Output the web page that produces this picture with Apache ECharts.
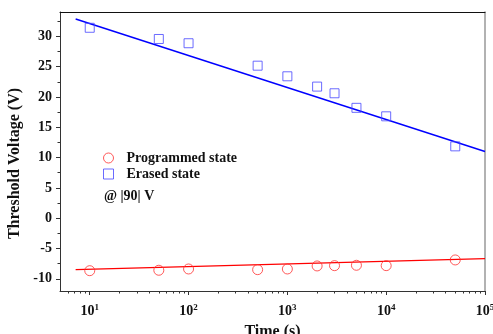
<!DOCTYPE html>
<html>
<head>
<meta charset="utf-8">
<script src="https://cdn.jsdelivr.net/npm/echarts@6/dist/echarts.min.js"></script>
<style>
  html, body { margin: 0; padding: 0; background: #fff; }
  #chartBox { width: 493px; height: 334px; }
</style>
</head>
<body>
<div id="chartBox"></div>
<script>
// retention data
var times = [10, 50, 100, 500, 1000, 2000, 3000, 5000, 10000, 50000];
var erasedVth = [31.4, 29.55, 28.85, 25.15, 23.4, 21.7, 20.6, 18.2, 16.8, 11.85];
var programmedVth = [-8.65, -8.58, -8.37, -8.48, -8.37, -7.87, -7.82, -7.76, -7.82, -6.88];

// fitted lines (end points)
var erasedFit = [[7.2, 32.85], [100000, 11.0]];
var programmedFit = [[7.2, -8.48], [100000, -6.66]];

// ticks
var xMajorTicks = [10, 100, 1000, 10000, 100000];
var xMinorTicks = [6, 7, 8, 9, 20, 30, 40, 50, 60, 70, 80, 90,
    200, 300, 400, 500, 600, 700, 800, 900,
    2000, 3000, 4000, 5000, 6000, 7000, 8000, 9000,
    20000, 30000, 40000, 50000, 60000, 70000, 80000, 90000];
var yMajorTicks = [-10, -5, 0, 5, 10, 15, 20, 25, 30];
var yMinorTicks = [-7.5, -2.5, 2.5, 7.5, 12.5, 17.5, 22.5, 27.5, 32.5];

var font = 'Liberation Serif';
var axisColor = '#333';
var red = '#ff3030';
var blue = '#4646ff';

function pairs(xs, ys) {
    var out = [];
    for (var i = 0; i < xs.length; i++) out.push([xs[i], ys[i]]);
    return out;
}

var myChart = echarts.init(document.getElementById('chartBox'));

var xRange = { type: 'log', logBase: 10, min: 5, max: 100000 };
var yRange = { type: 'value', min: -12, max: 34 };

var option = {
    animation: false,
    grid: { left: 60, right: 8, top: 12, bottom: 43, outerBoundsMode: 'none', containLabel: false },
    legend: {
        orient: 'vertical',
        left: 98,
        top: 146,
        padding: 5,
        itemWidth: 10,
        itemHeight: 10,
        itemGap: 2,
        data: [
            { name: 'Programmed state', itemStyle: { color: 'rgba(0,0,0,0)', borderColor: red, borderWidth: 1 } },
            { name: 'Erased state', itemStyle: { color: 'rgba(0,0,0,0)', borderColor: blue, borderWidth: 1 } }
        ],
        textStyle: {
            fontFamily: font,
            fontWeight: 'bold',
            fontSize: 14,
            lineHeight: 12,
            color: '#111',
            padding: [0, 0, 0, 8]
        }
    },
    graphic: [{
        type: 'text',
        left: 104,
        top: 189,
        style: {
            text: '@ |90| V',
            font: 'bold 14px "Liberation Serif"',
            fill: '#111'
        }
    }],
    xAxis: [
        echarts.util.extend({
            name: 'Time (s)',
            nameLocation: 'middle',
            nameGap: 28,
            nameTextStyle: { fontFamily: font, fontWeight: 'bold', fontSize: 16, color: '#111' },
            axisLine: { onZero: false, lineStyle: { color: axisColor, width: 1 } },
            axisTick: { inside: false, length: 4, customValues: xMajorTicks, lineStyle: { color: axisColor } },
            splitLine: { show: false },
            axisLabel: {
                margin: 12,
                customValues: xMajorTicks,
                formatter: function (v) {
                    var e = Math.round(Math.log10(v));
                    return '{b|10}{s|' + e + '}';
                },
                rich: {
                    b: { fontFamily: font, fontWeight: 'bold', fontSize: 14, color: '#111' },
                    s: { fontFamily: font, fontWeight: 'bold', fontSize: 9, color: '#111', padding: [0, 0, 8, 0] }
                }
            }
        }, xRange),
        echarts.util.extend({
            position: 'bottom',
            axisLine: { show: false, onZero: false },
            axisTick: { inside: false, length: 2.5, customValues: xMinorTicks, lineStyle: { color: axisColor } },
            axisLabel: { show: false },
            splitLine: { show: false }
        }, xRange),
        echarts.util.extend({
            position: 'top',
            axisLine: { onZero: false, lineStyle: { color: '#111', width: 1 } },
            axisTick: { show: false },
            axisLabel: { show: false },
            splitLine: { show: false }
        }, xRange)
    ],
    yAxis: [
        echarts.util.extend({
            name: 'Threshold Voltage (V)',
            nameLocation: 'middle',
            nameGap: 33,
            nameTextStyle: {
                fontFamily: font, fontWeight: 'bold', fontSize: 16, color: '#111',
                padding: [0, 24, 0, 0]
            },
            axisLine: { show: true, onZero: false, lineStyle: { color: axisColor, width: 1 } },
            axisTick: { inside: false, length: 4, customValues: yMajorTicks, lineStyle: { color: axisColor } },
            splitLine: { show: false },
            axisLabel: {
                margin: 8,
                customValues: yMajorTicks,
                fontFamily: font,
                fontWeight: 'bold',
                fontSize: 14,
                color: '#111'
            }
        }, yRange),
        echarts.util.extend({
            position: 'left',
            axisLine: { show: false, onZero: false },
            axisTick: { inside: false, length: 2.5, customValues: yMinorTicks, lineStyle: { color: axisColor } },
            axisLabel: { show: false },
            splitLine: { show: false }
        }, yRange),
        echarts.util.extend({
            position: 'right',
            axisLine: { show: true, onZero: false, lineStyle: { color: '#999', width: 1.5 } },
            axisTick: { show: false },
            axisLabel: { show: false },
            splitLine: { show: false }
        }, yRange)
    ],
    series: [
        {
            name: 'Programmed state',
            type: 'scatter',
            data: pairs(times, programmedVth),
            symbol: 'circle',
            symbolSize: 10,
            itemStyle: { color: 'rgba(0,0,0,0)', borderColor: red, borderWidth: 1 }
        },
        {
            name: 'Erased state',
            type: 'scatter',
            data: pairs(times, erasedVth),
            symbol: 'rect',
            symbolSize: 9,
            itemStyle: { color: 'rgba(0,0,0,0)', borderColor: blue, borderWidth: 1 }
        },
        {
            name: 'programmedFit',
            type: 'line',
            data: programmedFit,
            symbol: 'none',
            lineStyle: { color: '#ff0000', width: 1.4 },
            z: 1
        },
        {
            name: 'erasedFit',
            type: 'line',
            data: erasedFit,
            symbol: 'none',
            lineStyle: { color: '#0000ff', width: 1.4 },
            z: 1
        }
    ]
};

myChart.setOption(option);
</script>
</body>
</html>
